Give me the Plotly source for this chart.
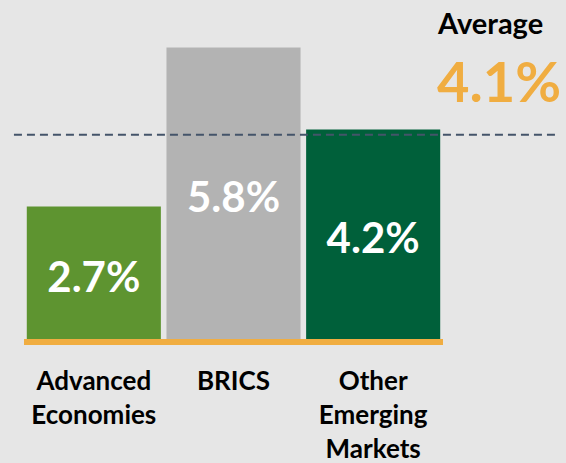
import plotly.graph_objects as go

categories = ["Advanced<br>Economies", "BRICS", "Other<br>Emerging<br>Markets"]
values = [2.7, 5.8, 4.2]
bar_labels = ["2.7%", "5.8%", "4.2%"]
bar_colors = ["#5e9430", "#b3b3b3", "#00603a"]
average_value = 4.1
average_title = "Average"
average_label = "4.1%"

BG = "#e6e6e6"
ORANGE = "#f0ad41"
FONT = "Lato"

PLOT_H = 345

fig = go.Figure()
fig.add_trace(go.Bar(
    x=[0, 1, 2],
    y=values,
    marker=dict(color=bar_colors, line=dict(width=0)),
    text=bar_labels,
    textposition="inside",
    insidetextanchor="middle",
    textangle=0,
    textfont=dict(family=FONT, size=42, color="white", weight="bold"),
    hoverinfo="skip",
))

fig.update_layout(
    width=566, height=463,
    paper_bgcolor=BG, plot_bgcolor=BG,
    margin=dict(l=24, r=123, t=0, b=463 - PLOT_H),
    showlegend=False,
    bargap=0.04,
    xaxis=dict(
        range=[-0.5, 2.5], tickvals=[0, 1, 2], ticktext=categories,
        showgrid=False, zeroline=False, showline=False, ticks="",
        tickfont=dict(family=FONT, size=26, color="black", weight="bold"),
        ticklabelstandoff=18,
    ),
    yaxis=dict(range=[0, PLOT_H / 51.3], visible=False, showgrid=False, zeroline=False),
    shapes=[
        dict(type="rect", xref="paper", yref="paper", x0=0, x1=1,
             y0=0, y1=6 / PLOT_H, fillcolor=ORANGE, line=dict(width=0), layer="above"),
        dict(type="line", xref="paper", yref="y", x0=-0.024, x1=1.274,
             y0=average_value, y1=average_value,
             line=dict(color="#44546a", width=2, dash="8px,5px"), layer="above"),
    ],
    annotations=[
        dict(text="<b>" + average_title + "</b>", xref="paper", yref="paper",
             x=(490 - 24) / 419, y=(PLOT_H - 23) / PLOT_H, xanchor="center", yanchor="middle",
             showarrow=False, font=dict(family=FONT, size=29, color="black")),
        dict(text="<b>" + average_label + "</b>", xref="paper", yref="paper",
             x=(499 - 24) / 419, y=(PLOT_H - 80) / PLOT_H, xanchor="center", yanchor="middle",
             showarrow=False, font=dict(family=FONT, size=56, color=ORANGE)),
    ],
)

fig.write_html(
    "out.html",
    config={"displayModeBar": False},
    post_script="document.body.style.margin='0';document.body.style.overflow='hidden';",
)
